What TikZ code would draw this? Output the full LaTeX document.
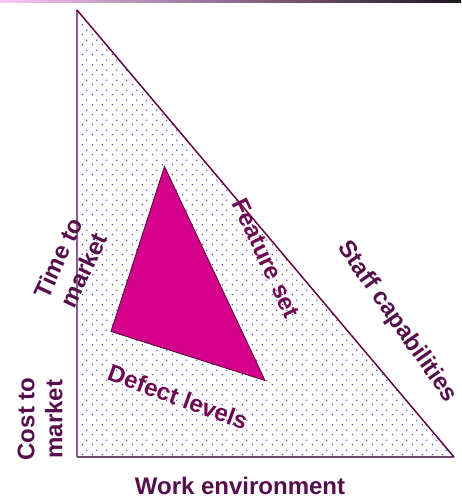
\documentclass[tikz,border=0pt]{standalone}
\usepackage{fontspec}
\setmainfont{Liberation Sans}
\usepackage{tikz}
\usetikzlibrary{patterns}

\definecolor{barpink}{RGB}{250,200,245}
\definecolor{bardark}{RGB}{30,20,30}
\definecolor{edgelight}{RGB}{140,90,140}
\definecolor{edgedark}{RGB}{95,10,65}
\definecolor{dotblue}{RGB}{40,40,200}
\definecolor{wedge}{RGB}{212,0,140}
\definecolor{labelplum}{RGB}{85,15,75}
\definecolor{defectplum}{RGB}{110,10,80}

\pgfdeclarepatternformonly{sparsedots}{\pgfpointorigin}{\pgfpoint{10pt}{10pt}}{\pgfpoint{10pt}{10pt}}{
  \pgfpathcircle{\pgfpoint{2.5pt}{2.5pt}}{0.8pt}
  \pgfpathcircle{\pgfpoint{7.5pt}{7.5pt}}{0.8pt}
  \pgfusepath{fill}
}

\begin{document}
\begin{tikzpicture}[x=1pt, y=-1pt, font=\fontsize{24}{28}\selectfont\bfseries]
					\useasboundingbox (0,0) rectangle (461,497);
					% Define coordinates
					\coordinate (T) at (77,10);
					\coordinate (B) at (77,457);
					\coordinate (R) at (454,457);
					\coordinate (D1) at (164.5,166.5);
					\coordinate (D2) at (111,331.5);
					\coordinate (D3) at (265,380.5);
					
					% Top bar
					\shade[left color=barpink, right color=bardark] (0,0) rectangle (461,3);
					
					% Outer triangle
					\fill[white] (T) -- (B) -- (R) -- cycle;
					\fill[pattern=sparsedots, pattern color=dotblue] (T) -- (B) -- (R) -- cycle;
					\draw[edgelight, line width=2pt] (T) -- (B);
					\draw[edgelight!80!black, line width=1.5pt] (B) -- (R);
					\draw[edgedark, line width=1.5pt] (R) -- (T);
					
					% Inner triangle
					\fill[wedge, draw=edgedark, line width=0.9pt, line join=miter] (D1) -- (D2) -- (D3) -- cycle;
					
					% Labels
					\node[labelplum, rotate=65, align=center] (time) at (71,264) {Time to\\market};
					\node[labelplum, rotate=90, align=center] (cost) at (40,419) {Cost to\\market};
					\node[defectplum, rotate=-20] (defect) at (178,397) {Defect levels};
					\node[defectplum, rotate=-65] (feature) at (266,258) {Feature set};
					\node[labelplum, rotate=-55] (staff) at (397,322) {Staff capabilities};
					\node[labelplum, anchor=base] (work) at (240,494) {Work environment};
				\end{tikzpicture}
\end{document}
